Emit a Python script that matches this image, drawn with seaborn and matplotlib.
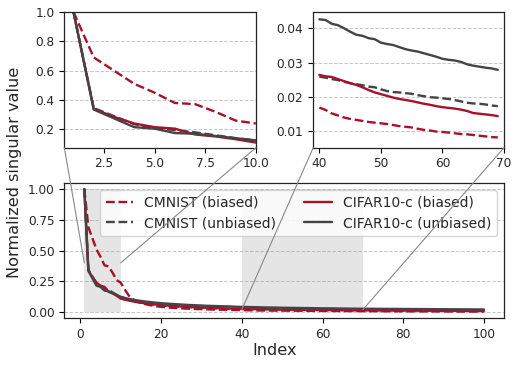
import numpy as np
import pandas as pd
import matplotlib
matplotlib.use("Agg")
import matplotlib.pyplot as plt
from matplotlib.patches import ConnectionPatch
import seaborn as sns

# singular value spectra, index 1..100
index = np.arange(1, 101)

cmnist_biased = [
    1.0, 0.69, 0.60, 0.51, 0.45, 0.38, 0.372, 0.32, 0.26, 0.24,
    0.185, 0.135, 0.105, 0.088, 0.076, 0.066, 0.058, 0.052, 0.047, 0.043,
    0.040, 0.037, 0.035, 0.033, 0.031, 0.029, 0.028, 0.026, 0.025, 0.024,
    0.023, 0.022, 0.021, 0.0205, 0.0198, 0.0191, 0.0184, 0.0178, 0.0173,
    0.0169, 0.0162, 0.0152, 0.0146, 0.0140, 0.0136, 0.0133, 0.0130, 0.0127, 0.0125,
    0.0123, 0.0121, 0.0118, 0.0115, 0.0113, 0.0111, 0.0107, 0.0104, 0.0102, 0.0099,
    0.0098, 0.0096, 0.0094, 0.0092, 0.0091, 0.0089, 0.0087, 0.0085, 0.0083, 0.0082,
    0.0081, 0.0079, 0.0078, 0.0076, 0.0075, 0.0073, 0.0072, 0.0070, 0.0069, 0.0067,
    0.0066, 0.0064, 0.0063, 0.0062, 0.0060, 0.0059, 0.0058, 0.0056, 0.0055, 0.0054,
    0.0053, 0.0051, 0.0050, 0.0049, 0.0048, 0.0047, 0.0046, 0.0045, 0.0044, 0.0043,
    0.0042,
]
cmnist_unbiased = [
    1.0, 0.345, 0.29, 0.235, 0.21, 0.195, 0.18, 0.16, 0.14, 0.125,
    0.112, 0.101, 0.092, 0.084, 0.077, 0.071, 0.066, 0.062, 0.058, 0.055,
    0.052, 0.049, 0.047, 0.045, 0.043, 0.041, 0.039, 0.038, 0.036, 0.035,
    0.034, 0.033, 0.032, 0.031, 0.030, 0.029, 0.0282, 0.0274, 0.0266,
    0.0259, 0.0256, 0.0252, 0.0249, 0.0244, 0.0240, 0.0237, 0.0234, 0.0230, 0.0228,
    0.0222, 0.0217, 0.0214, 0.0213, 0.0211, 0.0209, 0.0205, 0.0202, 0.0199, 0.0198,
    0.0196, 0.0194, 0.0191, 0.0187, 0.0183, 0.0181, 0.0180, 0.0178, 0.0175, 0.0173,
    0.0172, 0.0170, 0.0168, 0.0166, 0.0165, 0.0162, 0.0160, 0.0158, 0.0157, 0.0155,
    0.0153, 0.0151, 0.0149, 0.0148, 0.0146, 0.0144, 0.0142, 0.0141, 0.0139, 0.0137,
    0.0136, 0.0134, 0.0133, 0.0131, 0.0130, 0.0128, 0.0127, 0.0125, 0.0124, 0.0122,
    0.0121,
]
cifar_biased = [
    1.0, 0.34, 0.285, 0.24, 0.215, 0.205, 0.165, 0.152, 0.133, 0.11,
    0.101, 0.094, 0.088, 0.082, 0.077, 0.072, 0.068, 0.064, 0.061, 0.058,
    0.055, 0.052, 0.050, 0.048, 0.046, 0.044, 0.042, 0.040, 0.039, 0.037,
    0.036, 0.034, 0.033, 0.032, 0.031, 0.030, 0.029, 0.028, 0.027,
    0.0264, 0.0260, 0.0258, 0.0252, 0.0246, 0.0240, 0.0235, 0.0228, 0.0220, 0.0213,
    0.0208, 0.0203, 0.0198, 0.0194, 0.0191, 0.0188, 0.0184, 0.0180, 0.0177, 0.0173,
    0.0170, 0.0168, 0.0166, 0.0163, 0.0159, 0.0153, 0.0151, 0.0149, 0.0147, 0.0144,
    0.0143, 0.0141, 0.0139, 0.0137, 0.0135, 0.0133, 0.0132, 0.0129, 0.0127, 0.0126,
    0.0124, 0.0122, 0.0120, 0.0119, 0.0117, 0.0115, 0.0114, 0.0112, 0.0111, 0.0109,
    0.0108, 0.0106, 0.0105, 0.0103, 0.0102, 0.0100, 0.0099, 0.0098, 0.0096, 0.0095,
    0.0094,
]
cifar_unbiased = [
    1.0, 0.335, 0.275, 0.215, 0.205, 0.175, 0.17, 0.155, 0.14, 0.125,
    0.116, 0.108, 0.102, 0.096, 0.091, 0.087, 0.083, 0.079, 0.076, 0.073,
    0.070, 0.068, 0.066, 0.064, 0.062, 0.060, 0.058, 0.057, 0.055, 0.054,
    0.052, 0.051, 0.050, 0.049, 0.048, 0.047, 0.046, 0.0445, 0.0435,
    0.0426, 0.0424, 0.0413, 0.0409, 0.0400, 0.0390, 0.0381, 0.0378, 0.0371, 0.0368,
    0.0358, 0.0354, 0.0351, 0.0345, 0.0339, 0.0335, 0.0332, 0.0327, 0.0322, 0.0317,
    0.0311, 0.0308, 0.0306, 0.0302, 0.0295, 0.0291, 0.0288, 0.0285, 0.0283, 0.0279,
    0.0277, 0.0275, 0.0274, 0.0271, 0.0269, 0.0268, 0.0265, 0.0263, 0.0262, 0.0259,
    0.0257, 0.0256, 0.0253, 0.0251, 0.0250, 0.0247, 0.0245, 0.0244, 0.0241, 0.0239,
    0.0238, 0.0235, 0.0233, 0.0232, 0.0229, 0.0227, 0.0226, 0.0223, 0.0221, 0.0219,
    0.0217,
]

labels = ["CMNIST (biased)", "CMNIST (unbiased)", "CIFAR10-c (biased)", "CIFAR10-c (unbiased)"]
series = [cmnist_biased, cmnist_unbiased, cifar_biased, cifar_unbiased]

df = pd.DataFrame({"index": index})
for lab, vals in zip(labels, series):
    df[lab] = vals

red = "#a8102b"
grey = "#444444"
styles = {
    "CMNIST (biased)": (red, "--"),
    "CMNIST (unbiased)": (grey, "--"),
    "CIFAR10-c (biased)": (red, "-"),
    "CIFAR10-c (unbiased)": (grey, "-"),
}

sns.set_theme(style="ticks")
plt.rcParams["font.family"] = ["DejaVu Sans"]

fig = plt.figure(figsize=(5.19, 3.67), dpi=100)
ax = fig.add_axes([0.124, 0.1327, 0.847, 0.369])
ax_l = fig.add_axes([0.124, 0.5975, 0.369, 0.370])
ax_r = fig.add_axes([0.6035, 0.5975, 0.3675, 0.3705])

tick_fs = 8.7
lw = 1.7

def draw(a, sub, legend=False):
    for lab in labels:
        c, ls = styles[lab]
        sns.lineplot(data=sub, x="index", y=lab, ax=a, color=c, linestyle=ls,
                     linewidth=lw, label=lab if legend else None)
    a.set_xlabel("")
    a.set_ylabel("")
    a.grid(axis="y", linestyle="--", color="#c8c8c8", linewidth=0.7)
    a.tick_params(labelsize=tick_fs, length=3.5, width=0.8, color="black")
    for s in a.spines.values():
        s.set_color("#222222")
        s.set_linewidth(0.9)

# main panel with shaded zoom regions
ax.fill_between([1, 10], 0, 1, color="gray", alpha=0.2, linewidth=0)
ax.fill_between([40, 70], 0, 1, color="gray", alpha=0.2, linewidth=0)
draw(ax, df, legend=True)
ax.set_xlim(-3.95, 104.95)
ax.set_ylim(-0.05, 1.05)
ax.set_xticks([0, 20, 40, 60, 80, 100])
ax.set_yticks([0.0, 0.25, 0.5, 0.75, 1.0])
ax.set_yticklabels(["0.00", "0.25", "0.50", "0.75", "1.00"])
ax.legend(ncol=2, loc="upper right", fontsize=10, frameon=True, framealpha=0.8,
          handlelength=2.0, columnspacing=2.0, borderaxespad=0.5)

# left inset: first 10 values
draw(ax_l, df[df["index"] <= 10])
ax_l.set_xlim(0.55, 10)
ax_l.set_ylim(0.075, 1.0)
ax_l.set_xticks([2.5, 5.0, 7.5, 10.0])
ax_l.set_yticks([0.2, 0.4, 0.6, 0.8, 1.0])

# right inset: values 40..69
draw(ax_r, df[(df["index"] >= 40) & (df["index"] <= 69)])
ax_r.set_xlim(39, 70)
ax_r.set_ylim(0.0052, 0.0448)
ax_r.set_xticks([40, 50, 60, 70])
ax_r.set_yticks([0.01, 0.02, 0.03, 0.04])

# connector lines from the insets to the main panel
for a, pts in [(ax_l, [((0, 0), (1, 0.4)), ((1, 0), (10, 0.4))]),
               (ax_r, [((0, 0), (40, 0.02)), ((1, 0), (70, 0.02))])]:
    for xa, xb in pts:
        con = ConnectionPatch(xyA=xa, coordsA=a.transAxes, xyB=xb, coordsB=ax.transData,
                              color="#888888", linewidth=0.8)
        fig.add_artist(con)

fig.text(0.529, 0.046, "Index", ha="center", va="center", fontsize=11.6)
fig.text(0.027, 0.529, "Normalized singular value", ha="center", va="center",
         rotation=90, fontsize=11.6)

fig.savefig("out.png", dpi=100)
